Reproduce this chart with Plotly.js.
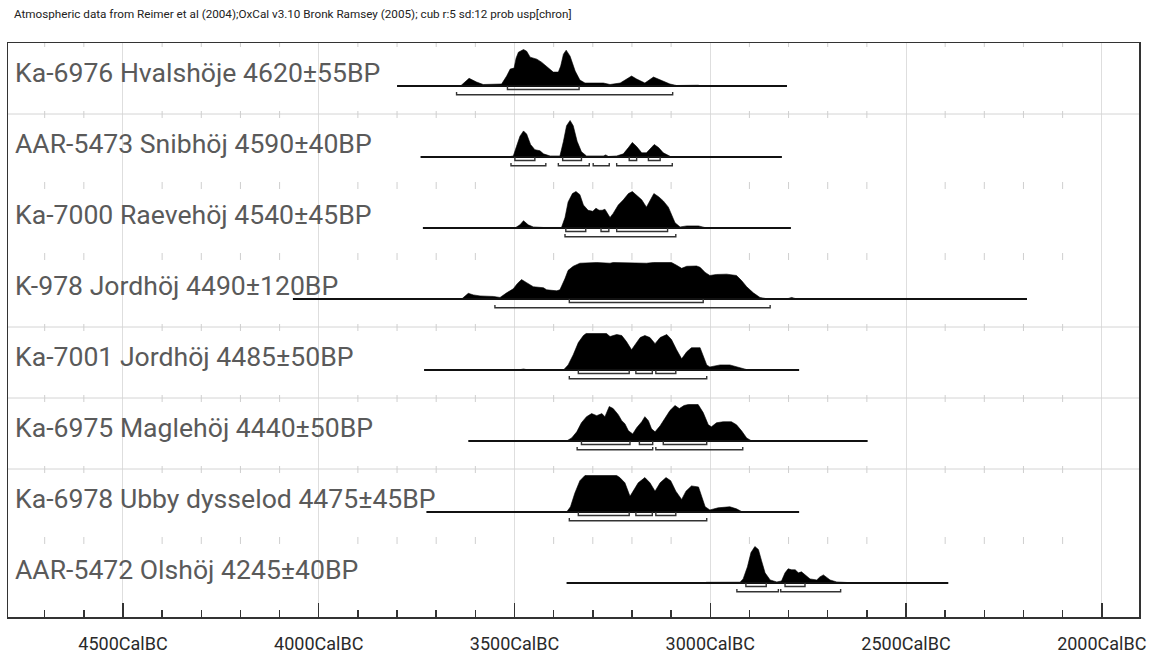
<!DOCTYPE html>
<html>
<head>
<meta charset="utf-8">
<script src="https://cdn.plot.ly/plotly-3.0.1.min.js"></script>
<style>html,body{margin:0;padding:0;background:#fff;}#chart{width:1158px;height:655px;}</style>
</head>
<body>
<div id="chart"></div>
<script>
// ---------- DATA (years BC, relative probability) ----------
const labels = [
  "Ka-6976 Hvalshöje 4620±55BP",
  "AAR-5473 Snibhöj 4590±40BP",
  "Ka-7000 Raevehöj 4540±45BP",
  "K-978 Jordhöj 4490±120BP",
  "Ka-7001 Jordhöj 4485±50BP",
  "Ka-6975 Maglehöj 4440±50BP",
  "Ka-6978 Ubby dysselod 4475±45BP",
  "AAR-5472 Olshöj 4245±40BP"
];
const lineStart = [3800, 3740, 3734, 4066, 3731, 3618, 3725, 3367];
const lineEnd   = [2804, 2817, 2794, 2191, 2773, 2598, 2773, 2392];

const yrs1 = [3638,3616,3597,3580,3533,3520,3511,3501,3496,3490,3477,3469,3460,3443,3431,3418,3401,3388,3382,3375,3368,3358,3345,3333,3320,3273,3256,3230,3213,3201,3188,3167,3145,3128,3103,3086,3057,3031,3022];
const prob1 = [0,7.7,4,1.5,2,10,17,18,28,34,36.7,35,29,27,24,20,14,14,20,32,36,30,15,6,3,3,1.5,3,7,10,7,3,9,6,2,0.5,0.8,0.8,0];

const yrs2 = [3518,3503,3495,3486,3477,3469,3459,3448,3435,3426,3409,3384,3375,3367,3358,3350,3340,3329,3316,3273,3267,3260,3239,3222,3209,3199,3188,3175,3163,3152,3143,3132,3120,3099];
const prob2 = [0,1,10,20,25,22,12,7,6,3,1,1,15,30,35,30,15,5,1,1,2,0.5,1,3,9,14,10,4,4,9,12,9,4,0];

const yrs3 = [3499,3486,3477,3465,3452,3426,3380,3371,3363,3352,3343,3333,3324,3312,3300,3292,3284,3276,3269,3263,3256,3248,3235,3222,3209,3199,3188,3175,3163,3152,3144,3132,3120,3107,3099,3090,3077,3060,3030,3018,3009];
const prob3 = [0,3,7,3,1,0.5,0.5,10,25,33,35,32,22,17,16,19,17,17,18,14,10,14,22,27,33,35,31,27,20,28,33,30,26,20,13,5,1,2,2,0.5,0];

const yrs4 = [3635,3618,3605,3588,3554,3537,3520,3503,3493,3482,3469,3452,3426,3418,3392,3384,3371,3363,3350,3333,3290,3256,3248,3197,3163,3145,3099,3086,3073,3060,3035,3026,3013,3001,2984,2958,2933,2920,2907,2890,2873,2856,2801,2792,2783,2770,2712,2704,2694];
const prob4 = [0,5.5,4,3,2.5,1.5,6,10,15,19,16,12,11,9,8,9,20,28,32,35,35.7,35,35.7,35.3,35,35.7,35.7,33,30,32,32.3,31,26,23,24,24.3,23,18,12,6,1.5,0.3,0.5,1.5,0.5,0.2,0.6,0.6,0];

const yrs5 = [3490,3477,3465,3375,3363,3350,3337,3324,3317,3265,3256,3239,3226,3214,3201,3192,3179,3167,3154,3141,3128,3111,3099,3086,3073,3060,3048,3026,3018,3009,3001,2975,2950,2933,2912,2903];
const prob5 = [0,1,0,0,5,15,27,34,36,36,33,35,34,28,20,25,32,34,32,26,32,35,30,20,11,18,22,22,14,5,3,5,5,3,0.5,0];

const yrs6 = [3367,3354,3341,3329,3316,3303,3290,3277,3269,3258,3248,3235,3226,3218,3209,3198,3188,3175,3167,3158,3150,3141,3128,3116,3103,3090,3079,3067,3056,3031,3018,3005,2997,2984,2967,2946,2933,2920,2907,2894];
const prob6 = [0,3,9,18,24,27,25,27,24,34,32,26,20,17,10,7,13,19,24,20,12,9,15,22,30,35,32,35,36,36,28,16,14,18,19,19,16,10,3,0];

const yrs7 = [3367,3357,3346,3333,3320,3307,3265,3239,3231,3218,3205,3197,3184,3167,3154,3141,3128,3113,3101,3088,3073,3062,3048,3030,3022,3013,3001,2980,2950,2933,2920,2912];
const prob7 = [0,5,18,30,35,35,35,35,33,28,15,20,28,33,28,20,28,33,30,20,12,20,25,24,15,5,2,4,5,3,0.5,0];

const yrs8 = [3018,3009,2924,2916,2905,2896,2886,2877,2869,2860,2847,2830,2818,2809,2801,2792,2783,2775,2767,2758,2745,2728,2720,2711,2703,2694,2677,2630,2626];
const prob8 = [0,0.7,0.8,4,16,30,36,33,22,10,3,1,2,10,14,13,13,10,11,8,4,3,6,8,6,3,1,0.5,0];

const range68 = [
  [[3518,3335]],
  [[3499,3448],[3377,3329],[3207,3188],[3158,3128]],
  [[3369,3318],[3279,3259],[3239,3109]],
  [[3360,3018]],
  [[3337,3207],[3190,3148],[3139,3088]],
  [[3329,3205],[3181,3147],[3120,3009]],
  [[3337,3207],[3190,3148],[3139,3088]],
  [[2909,2857],[2809,2758]]
];
const range95 = [
  [[3648,3096]],
  [[3509,3420],[3388,3309],[3299,3258],[3239,3097]],
  [[3371,3088]],
  [[3550,2847]],
  [[3360,3009]],
  [[3340,3147],[3139,2917]],
  [[3360,3009]],
  [[2932,2826],[2820,2667]]
];
const majorTicks = [4500, 4000, 3500, 3000, 2500, 2000];
const headerText = "Atmospheric data from Reimer et al (2004);OxCal v3.10 Bronk Ramsey (2005); cub r:5 sd:12 prob usp[chron]";

// ---------- LAYOUT GEOMETRY ----------
const years = [yrs1,yrs2,yrs3,yrs4,yrs5,yrs6,yrs7,yrs8];
const probs = [prob1,prob2,prob3,prob4,prob5,prob6,prob7,prob8];
const PX = 1/70.9;            // one pixel in y units
const YMAX = 574*PX;          // plot height in y units
const rowTop = k => YMAX - k*1.0014;
const base = k => rowTop(k) - 43*PX;
const PEAK = 36.5*PX;
const XR = [4793.7, 1904.9];

const traces = [];
const annotations = [];

// separators and row-top ticks
const sepX = [], sepY = [];
const fullSep = [1,4,5,6];
fullSep.forEach(k => { sepX.push(XR[0], XR[1], null); sepY.push(rowTop(k), rowTop(k), null); });
traces.push({x: sepX, y: sepY, mode:'lines', line:{color:'#d4d4d4', width:1}, hoverinfo:'skip'});
const tkX = [], tkY = [];
for (let k = 0; k < 8; k++) {
  for (let yr = 4700; yr >= 2000; yr -= 100) {
    if (yr % 500 === 0) continue;
    tkX.push(yr, yr, null);
    tkY.push(rowTop(k) + 3*PX, rowTop(k) - 4*PX, null);
  }
}
traces.push({x: tkX, y: tkY, mode:'lines', line:{color:'#cfcfcf', width:1}, hoverinfo:'skip'});

for (let k = 0; k < 8; k++) {
  const b = base(k);
  const ys = years[k], ps = probs[k];
  const mx = Math.max(...ps);
  // filled distribution
  const fx = [ys[0]].concat(ys, [ys[ys.length-1]]);
  const fy = [b].concat(ps.map(v => b + v/mx*PEAK), [b]);
  traces.push({x: fx, y: fy, mode:'lines', fill:'toself', fillcolor:'#000',
               line:{color:'#000', width:0.6}, hoverinfo:'skip'});
  // baseline
  traces.push({x:[lineStart[k], lineEnd[k]], y:[b, b], mode:'lines',
               line:{color:'#111', width:1.8}, hoverinfo:'skip'});
  // brackets
  const bx = [], by = [];
  range68[k].forEach(r => {
    bx.push(r[0], r[0], r[1], r[1], null);
    by.push(b, b-3.5*PX, b-3.5*PX, b, null);
  });
  range95[k].forEach(r => {
    bx.push(r[0], r[0], r[1], r[1], null);
    by.push(b-6*PX, b-8.7*PX, b-8.7*PX, b-6*PX, null);
  });
  traces.push({x: bx, y: by, mode:'lines', line:{color:'#333', width:1.4}, hoverinfo:'skip'});
  // label
  annotations.push({text: labels[k], xref:'paper', yref:'y', x: 5/1131, y: b,
    xanchor:'left', yanchor:'bottom', yshift:-4, showarrow:false,
    font:{family:'Roboto, sans-serif', size:26.6, color:'#5a5a5a'}});
}

const layout = {
  width:1158, height:655,
  margin:{l:8, r:19, t:43, b:38, pad:0},
  paper_bgcolor:'#fff', plot_bgcolor:'#fff',
  showlegend:false,
  title:{text: headerText, x: 14/1158, xanchor:'left', xref:'container',
         y: 1 - 14/655, yanchor:'middle', yref:'container',
         font:{family:'Roboto, sans-serif', size:11.7, color:'#222'}},
  xaxis:{range: XR, tickmode:'array', tickvals: majorTicks,
         ticktext: majorTicks.map(v => v + 'CalBC'),
         ticks:'inside', ticklen:14, tickwidth:1.5, tickcolor:'#333',
         showgrid:true, gridcolor:'#dedede', gridwidth:1,
         showline:true, linecolor:'#333', linewidth:1.5, mirror:true,
         zeroline:false, fixedrange:true, ticklabelstandoff:10,
         tickfont:{family:'Roboto, sans-serif', size:18, color:'#2a2a2a'},
         minor:{dtick:100, tick0:0, ticks:'inside', ticklen:7, tickwidth:1.5, tickcolor:'#333', showgrid:false}},
  yaxis:{range:[0, YMAX], showgrid:false, zeroline:false, showticklabels:false, ticks:'',
         showline:true, linecolor:'#333', linewidth:1.5, mirror:true, fixedrange:true},
  annotations: annotations
};

Plotly.newPlot('chart', traces, layout, {displayModeBar:false, staticPlot:true});
</script>
</body>
</html>
